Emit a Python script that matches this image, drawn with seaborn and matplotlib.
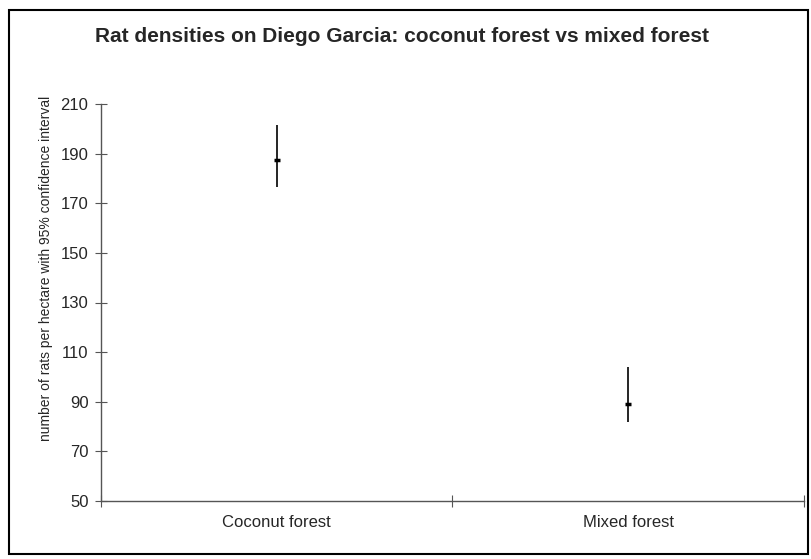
import matplotlib
matplotlib.use("Agg")
import matplotlib.pyplot as plt
import seaborn as sns
import pandas as pd
from matplotlib.patches import Rectangle

habitats = ["Coconut forest", "Mixed forest"]
density_mean = [187.5, 89.0]
ci_low = [176.5, 81.8]
ci_high = [201.5, 104.0]

df = pd.DataFrame({"habitat": habitats, "mean": density_mean,
                   "low": ci_low, "high": ci_high})

sns.set_style("white")
plt.rcParams["font.family"] = ["Liberation Sans", "DejaVu Sans"]

fig = plt.figure(figsize=(8.12, 5.59), dpi=100)
ax = fig.add_axes([101 / 812, 1 - 501 / 559, 703 / 812, 397 / 559])

# confidence interval lines, then the mean marks
ax.vlines(range(len(df)), df["low"], df["high"], color="black", lw=1.2)
sns.scatterplot(x=range(len(df)), y=df["mean"], ax=ax, marker="_", s=22,
                color="black", linewidth=2.5, legend=False)

ax.set_xlim(-0.5, 1.5)
ax.set_ylim(50, 210)
ax.set_yticks(range(50, 211, 20))
ax.set_xticks([-0.5, 0.5, 1.5])
ax.set_xticklabels([])
ax.set_xticks([0, 1], minor=True)
ax.set_xticklabels(habitats, minor=True, fontsize=12)
ax.tick_params(axis="x", which="minor", bottom=True, length=0, pad=10)
ax.tick_params(axis="x", which="major", bottom=True, direction="inout",
               length=8, width=0.8, color="#555555")
ax.tick_params(axis="y", left=True, direction="inout", length=8, width=0.8,
               color="#555555", labelsize=12, pad=5)

for side in ["top", "right"]:
    ax.spines[side].set_visible(False)
for side in ["left", "bottom"]:
    ax.spines[side].set_color("#555555")
    ax.spines[side].set_linewidth(1.0)

ax.set_xlabel("")
ax.set_ylabel("number of rats per hectare with 95% confidence interval",
              fontsize=10)
ax.yaxis.set_label_coords(-0.068, 0.585)

fig.text(0.495, 1 - 37 / 559, "Rat densities on Diego Garcia: coconut forest vs mixed forest",
         ha="center", va="center", fontsize=15, fontweight="bold")

fig.patches.append(Rectangle((9 / 812, 5 / 559), 799 / 812, 544 / 559,
                             transform=fig.transFigure, fill=False,
                             edgecolor="black", linewidth=1.5))

fig.savefig("out.png", dpi=100)
